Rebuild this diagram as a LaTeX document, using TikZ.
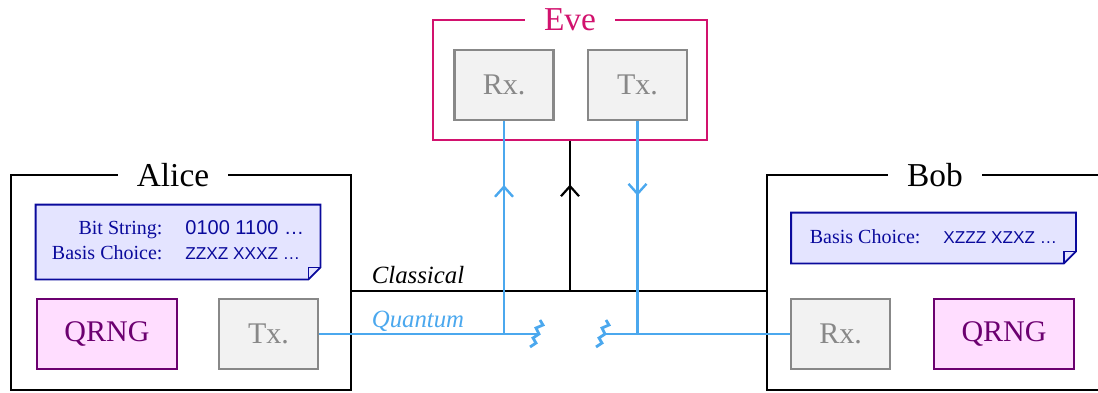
\documentclass[tikz,border=0pt]{standalone}
\usepackage{fontspec}
\setmainfont{Liberation Serif}
\setsansfont{Liberation Sans}
\usetikzlibrary{arrows.meta, decorations.markings}
\definecolor{qBlue}{HTML}{4BA8EE}
\definecolor{eveMagenta}{HTML}{D2126E}
\definecolor{rngPurple}{HTML}{6C0070}
\definecolor{rngPink}{HTML}{FFDDFF}
\definecolor{docNavy}{HTML}{0A0A9C}
\definecolor{docFill}{HTML}{E4E4FF}
\definecolor{devGrey}{HTML}{888888}
\definecolor{devFill}{HTML}{F2F2F2}
\newcommand{\basisfont}{\sffamily\fontsize{8.6}{12.5}\selectfont}

\begin{document}
\begin{tikzpicture}[x=0.5pt, y=-0.5pt,
    frame/.style={draw, line width=1.1pt, minimum height=107.5pt, inner sep=0pt},
    title/.style={fill=white, inner xsep=9.5pt, inner ysep=1pt, font=\fontsize{16.7}{18}\selectfont},
    dev/.style={draw=devGrey, line width=1.1pt, fill=devFill, text=devGrey, minimum width=49.5pt,
                minimum height=35pt, inner sep=0pt, font=\fontsize{15}{17}\selectfont},
    rng/.style={draw=rngPurple, line width=1.1pt, fill=rngPink, text=rngPurple, minimum width=70pt,
                minimum height=35pt, inner sep=0pt, font=\fontsize{15}{17}\selectfont},
    doc/.style={fill=docFill, text=docNavy, minimum width=142pt, inner sep=0pt,
                font=\fontsize{10}{12.5}\selectfont},
    docline/.style={draw=docNavy, line width=0.9pt},
    qline/.style={draw=qBlue, line width=1.2pt},
    cline/.style={draw=black, line width=1.1pt},
    midtip/.style={postaction={decorate, decoration={markings,
        mark=at position #1 with {\arrow{Straight Barb[length=5pt, width=9pt]}}}}}]
    \clip (0,0) rectangle (1098,392);

    % the three parties
    \node[frame, minimum width=170pt] (alicebox) at (181,282.5) {};
    \node[frame, minimum width=176.5pt] (bobbox) at (943.5,282.5) {};
    \node[frame, draw=eveMagenta, minimum width=137pt, minimum height=60pt] (evebox) at (570,80) {};
    \node[title] (alicetitle) at (173,175) {Alice};
    \node[title] (bobtitle) at (935,175) {Bob};
    \node[title, text=eveMagenta] (evetitle) at (570,20) {Eve};

    % notes
    \node[doc, minimum height=37pt] (alicedoc) at (178,242)
      {\begin{tabular}{@{}r@{\hspace{11.5pt}}l@{}}
         Bit String: & \sffamily 0100 1100 \ldots\\
         Basis Choice: & \basisfont ZZXZ XXXZ \ldots
       \end{tabular}};
    \node[doc, minimum height=25pt] (bobdoc) at (933.5,238)
      {\begin{tabular}{@{}r@{\hspace{11.5pt}}l@{}}
         Basis Choice: & \basisfont XZZZ XZXZ \ldots
       \end{tabular}};
    \foreach \d in {alicedoc, bobdoc} {
      \fill[white] ([xshift=-6pt]\d.south east) -- (\d.south east) -- ([yshift=6pt]\d.south east) -- cycle;
      \draw[docline] (\d.north west) -- (\d.north east) -- ([yshift=6pt]\d.south east)
        -- ([xshift=-6pt]\d.south east) -- (\d.south west) -- cycle;
      \draw[docline] ([yshift=6pt]\d.south east) -- ([xshift=-6pt, yshift=6pt]\d.south east)
        -- ([xshift=-6pt]\d.south east);
    }

    % devices
    \node[rng] (aliceqrng) at (107,334) {QRNG};
    \node[dev] (alicetx) at (268.5,334) {Tx.};
    \node[dev] (bobrx) at (840.5,334) {Rx.};
    \node[rng] (bobqrng) at (1004,334) {QRNG};
    \node[dev] (everx) at (504,85) {Rx.};
    \node[dev] (evetx) at (637.5,85) {Tx.};

    % channels
    \coordinate (cjoin) at (570,291);
    \coordinate (cutl) at (538,334);
    \coordinate (cutr) at (604,334);
    \draw[cline] (alicebox.east |- cjoin) -- (bobbox.west |- cjoin);
    \draw[cline, midtip=0.71] (cjoin) -- (evebox.south);
    \draw[qline] (alicetx.east) -- (cutl);
    \draw[qline] (cutr) -- (bobrx.west);
    \foreach \c in {cutl, cutr}
      \draw[qline, line width=1.4pt] ([shift={(2,-14)}]\c) -- ++(3,5) -- ++(-7,3) -- ++(3,6) -- ++(-6,4) -- ++(3,5) -- ++(-6,4);
    \draw[qline, midtip=0.70] (everx.south |- alicetx.east) -- (everx.south);
    \draw[qline, midtip=0.35] (evetx.south) -- (evetx.south |- alicetx.east);
    \node[font=\itshape\fontsize{12.4}{14}\selectfont] (classlabel) at (418,275) {Classical};
    \node[font=\itshape\fontsize{12.4}{14}\selectfont, text=qBlue] (quantlabel) at (418,321) {Quantum};
  \end{tikzpicture}
\end{document}
